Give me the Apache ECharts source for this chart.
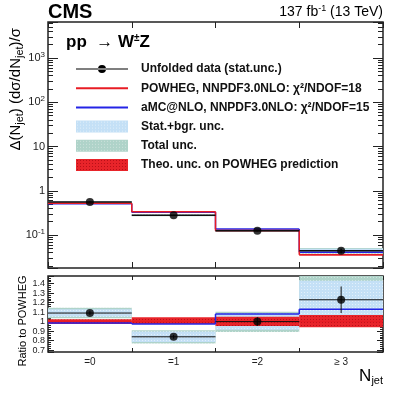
<!DOCTYPE html>
<html>
<head>
<meta charset="utf-8">
<script src="https://cdn.jsdelivr.net/npm/echarts@6/dist/echarts.min.js"></script>
<style>
  html, body { margin: 0; padding: 0; background: #fff; }
  #chart { width: 399px; height: 394px; }
</style>
</head>
<body>
<div id="chart"></div>
<script>
const fontFamily = '"Liberation Sans", Arial, Helvetica, sans-serif'
const categories = ['=0', '=1', '=2', '\u2265 3']

// upper panel: normalised distribution
const dataVal = [0.56, 0.28, 0.125, 0.044]
const dataLo = [0.55, 0.275, 0.121, 0.039]
const dataHi = [0.57, 0.285, 0.129, 0.049]
const statLo = [0.54, 0.27, 0.12, 0.04]
const statHi = [0.58, 0.29, 0.13, 0.049]
const totalLo = [0.53, 0.265, 0.117, 0.038]
const totalHi = [0.59, 0.295, 0.133, 0.051]
const powheg = [0.52, 0.335, 0.126, 0.036]
const theoLo = [0.505, 0.325, 0.121, 0.0345]
const theoHi = [0.535, 0.345, 0.131, 0.0375]
const amcnlo = [0.512, 0.327, 0.136, 0.041]

// lower panel: ratio to POWHEG
const ratioData = [1.09, 0.84, 1.0, 1.23]
const ratioErrLo = [1.07, 0.82, 0.955, 1.09]
const ratioErrHi = [1.11, 0.86, 1.045, 1.37]
const ratioStatLo = [1.05, 0.785, 0.915, 1.0]
const ratioStatHi = [1.13, 0.895, 1.085, 1.43]
const ratioTotalLo = [1.035, 0.77, 0.89, 0.95]
const ratioTotalHi = [1.145, 0.91, 1.105, 1.6]
const ratioTheoLo = [0.975, 0.975, 0.955, 0.94]
const ratioTheoHi = [1.025, 1.045, 1.05, 1.07]
const ratioPowheg = [1, 1, 1, 1]
const ratioAmcnlo = [0.985, 0.975, 1.08, 1.13]

const NAME_DATA = 'Unfolded data (stat.unc.)'
const NAME_POW = 'POWHEG, NNPDF3.0NLO: \u03c7\u00b2/NDOF=18'
const NAME_AMC = 'aMC@NLO, NNPDF3.0NLO: \u03c7\u00b2/NDOF=15'
const NAME_STAT = 'Stat.+bgr. unc.'
const NAME_TOT = 'Total unc.'
const NAME_THEO = 'Theo. unc. on POWHEG prediction'

const redColor = '#e81c24'
const blueColor = '#2424e6'

// small dotted fill like ROOT hatch styles
const pattern = (bg, dot) => {
  const c = document.createElement('canvas')
  c.width = 3
  c.height = 3
  const ctx = c.getContext('2d')
  ctx.fillStyle = bg
  ctx.fillRect(0, 0, 3, 3)
  ctx.fillStyle = dot
  ctx.fillRect(1, 1, 1, 1)
  return { image: c, repeat: 'repeat' }
}
const statFill = pattern('#c4e0f6', '#e2f0fb')
const totalFill = pattern('#afd3c9', '#cfe4de')
const theoFill = pattern('#e8242a', '#b81018')

const clipToGrid = (rect, params) => echarts.graphic.clipRectByRect(rect, {
  x: params.coordSys.x,
  y: params.coordSys.y,
  width: params.coordSys.width,
  height: params.coordSys.height
})

const bandSeries = (name, lo, hi, fill, axis) => ({
  name: name,
  type: 'custom',
  xAxisIndex: axis,
  yAxisIndex: axis,
  itemStyle: { color: fill },
  data: lo.map((v, i) => [i, v, hi[i]]),
  renderItem: (params, api) => {
    const w = api.size([1, 1])[0]
    const top = api.coord([api.value(0), api.value(2)])
    const bot = api.coord([api.value(0), api.value(1)])
    const rect = clipToGrid({ x: top[0] - w / 2, y: top[1], width: w, height: bot[1] - top[1] }, params)
    if (!rect) return null
    return { type: 'rect', shape: rect, style: { fill: fill } }
  }
})

const stepSeries = (name, vals, color, axis, width) => ({
  name: name,
  type: 'custom',
  xAxisIndex: axis,
  yAxisIndex: axis,
  itemStyle: { color: color },
  data: vals.map((v, i) => [i, v]),
  renderItem: (params, api) => {
    const i = api.value(0)
    const w = api.size([1, 1])[0]
    const p = api.coord([i, api.value(1)])
    const style = { stroke: color, lineWidth: width }
    const children = [
      { type: 'line', shape: { x1: p[0] - w / 2, y1: p[1], x2: p[0] + w / 2, y2: p[1] }, style: style }
    ]
    if (i > 0) {
      const q = api.coord([i, vals[i - 1]])
      children.push({ type: 'line', shape: { x1: p[0] - w / 2, y1: q[1], x2: p[0] - w / 2, y2: p[1] }, style: style })
    }
    return { type: 'group', children: children }
  }
})

const errorSeries = (vals, lo, hi, axis, width) => ({
  name: NAME_DATA,
  type: 'custom',
  xAxisIndex: axis,
  yAxisIndex: axis,
  itemStyle: { color: '#000' },
  data: vals.map((v, i) => [i, v, lo[i], hi[i]]),
  renderItem: (params, api) => {
    const w = api.size([1, 1])[0]
    const p = api.coord([api.value(0), api.value(1)])
    const a = api.coord([api.value(0), api.value(2)])
    const b = api.coord([api.value(0), api.value(3)])
    const style = { stroke: '#111', lineWidth: width }
    return {
      type: 'group',
      children: [
        { type: 'line', shape: { x1: p[0] - w / 2, y1: p[1], x2: p[0] + w / 2, y2: p[1] }, style: style },
        { type: 'line', shape: { x1: p[0], y1: a[1], x2: p[0], y2: b[1] }, style: style }
      ]
    }
  }
})

const pointSeries = (vals, axis) => ({
  name: NAME_DATA,
  type: 'scatter',
  xAxisIndex: axis,
  yAxisIndex: axis,
  symbolSize: 8,
  itemStyle: { color: '#000' },
  data: vals.map((v, i) => [i, v])
})

const tickText = { color: '#222', fontFamily: fontFamily }

const xAxisBase = (grid, position, showLabel) => ({
  type: 'category',
  gridIndex: grid,
  position: position,
  data: categories,
  boundaryGap: true,
  axisLine: { show: false },
  axisTick: { show: true, inside: true, length: grid === 0 ? 6 : 4, lineStyle: { color: '#222' } },
  axisLabel: { show: showLabel, fontSize: 10, margin: 5, ...tickText },
  splitLine: { show: false }
})

const logLabel = (v) => {
  const e = Math.round(Math.log10(v))
  if (Math.abs(Math.log10(v) - e) > 1e-6) return ''
  if (e === 0) return '1'
  if (e === 1) return '10'
  return '10{sup|' + e + '}'
}

const yLog = (position, showLabel) => ({
  type: 'log',
  gridIndex: 0,
  position: position,
  min: 0.018,
  max: 6500,
  logBase: 10,
  axisLine: { show: false },
  axisTick: { show: true, inside: true, length: 10, lineStyle: { color: '#222' } },
  minorTick: { show: true, splitNumber: 9, length: 5, lineStyle: { color: '#222' } },
  axisLabel: {
    show: showLabel,
    margin: 3,
    fontSize: 11,
    ...tickText,
    formatter: logLabel,
    rich: { sup: { fontSize: 8, padding: [0, 0, 7, 0], ...tickText } }
  },
  splitLine: { show: false }
})

const yRatio = (position, showLabel) => ({
  type: 'value',
  gridIndex: 1,
  position: position,
  min: 0.68,
  max: 1.48,
  splitNumber: 8,
  axisLine: { show: false },
  axisTick: { show: true, inside: true, length: 6, lineStyle: { color: '#222' } },
  minorTick: { show: true, splitNumber: 5, length: 3, lineStyle: { color: '#222' } },
  axisLabel: {
    show: showLabel,
    margin: 3,
    fontSize: 9,
    ...tickText,
    formatter: (v) => {
      const r = Math.round(v * 10) / 10
      if (Math.abs(v - r) > 1e-6) return ''
      return String(r)
    }
  },
  splitLine: { show: false }
})

const chart = echarts.init(document.getElementById('chart'))

const option = {
  animation: false,
  textStyle: { fontFamily: fontFamily },
  grid: [
    { left: 48, right: 16, top: 22, height: 246, show: true, borderColor: '#222', borderWidth: 1.5, backgroundColor: 'transparent' },
    { left: 48, right: 16, top: 276, height: 76, show: true, borderColor: '#222', borderWidth: 1.5, backgroundColor: 'transparent' }
  ],
  xAxis: [
    xAxisBase(0, 'bottom', false),
    xAxisBase(0, 'top', false),
    xAxisBase(1, 'bottom', true),
    xAxisBase(1, 'top', false)
  ],
  yAxis: [
    yLog('left', true),
    yLog('right', false),
    yRatio('left', true),
    yRatio('right', false)
  ],
  legend: {
    left: 71,
    top: 58,
    orient: 'vertical',
    itemWidth: 52,
    itemHeight: 12,
    itemGap: 7.2,
    selectedMode: false,
    textStyle: { fontSize: 12, fontWeight: 'bold', color: '#111', fontFamily: fontFamily, lineHeight: 12, padding: [0, 0, 0, 8] },
    data: [
      { name: NAME_DATA, icon: 'path://M0,5.4H52V6.6H0Z M22,6A4,4 0 1,0 30,6A4,4 0 1,0 22,6Z' },
      { name: NAME_POW, icon: 'path://M0,0H52V2H0Z' },
      { name: NAME_AMC, icon: 'path://M0,0H52V2H0Z' },
      { name: NAME_STAT, icon: 'rect' },
      { name: NAME_TOT, icon: 'rect' },
      { name: NAME_THEO, icon: 'rect' }
    ]
  },
  series: [
    bandSeries(NAME_TOT, totalLo, totalHi, totalFill, 0),
    bandSeries(NAME_STAT, statLo, statHi, statFill, 0),
    bandSeries(NAME_THEO, theoLo, theoHi, theoFill, 0),
    stepSeries(NAME_AMC, amcnlo, blueColor, 0, 1.5),
    stepSeries(NAME_POW, powheg, redColor, 0, 1.5),
    errorSeries(dataVal, dataLo, dataHi, 0, 1.5),
    pointSeries(dataVal, 0),

    bandSeries(NAME_TOT, ratioTotalLo, ratioTotalHi, totalFill, 2),
    bandSeries(NAME_STAT, ratioStatLo, ratioStatHi, statFill, 2),
    bandSeries(NAME_THEO, ratioTheoLo, ratioTheoHi, theoFill, 2),
    stepSeries(NAME_POW, ratioPowheg, redColor, 2, 1.5),
    stepSeries(NAME_AMC, ratioAmcnlo, blueColor, 2, 1.5),
    errorSeries(ratioData, ratioErrLo, ratioErrHi, 2, 1),
    pointSeries(ratioData, 2)
  ],
  graphic: [
    {
      type: 'text', left: 48, top: 2,
      style: { text: 'CMS', fontSize: 20, fontWeight: 'bold', fill: '#000', fontFamily: fontFamily }
    },
    {
      type: 'text', right: 16, top: 4,
      style: {
        text: '137 fb{sup|-1} (13 TeV)',
        fontSize: 14, fill: '#000', fontFamily: fontFamily,
        rich: { sup: { fontSize: 9, padding: [0, 0, 8, 0], fill: '#000', fontFamily: fontFamily } }
      }
    },
    {
      type: 'text', left: 66, top: 33,
      style: {
        text: 'pp  \u2192 W{sup|\u00b1}Z',
        fontSize: 17, fontWeight: 'bold', fill: '#000', fontFamily: fontFamily,
        rich: { sup: { fontSize: 10, fontWeight: 'bold', padding: [0, 0, 9, 0], fill: '#000', fontFamily: fontFamily } }
      }
    },
    {
      type: 'text', x: 16, y: 28, rotation: Math.PI / 2,
      style: {
        text: '\u0394(N{sub|jet}) (d\u03c3/dN{sub|jet})/\u03c3',
        fontSize: 15, fill: '#000', fontFamily: fontFamily,
        align: 'right', verticalAlign: 'middle',
        rich: { sub: { fontSize: 11, padding: [7, 0, 0, 0], fill: '#000', fontFamily: fontFamily } }
      }
    },
    {
      type: 'text', x: 23, y: 321, rotation: Math.PI / 2,
      style: {
        text: 'Ratio to POWHEG',
        fontSize: 11, fill: '#000', fontFamily: fontFamily,
        align: 'center', verticalAlign: 'middle'
      }
    },
    {
      type: 'text', right: 16, top: 368,
      style: {
        text: 'N{sub|jet}',
        fontSize: 17, fill: '#000', fontFamily: fontFamily,
        rich: { sub: { fontSize: 11, padding: [9, 0, 0, 0], fill: '#000', fontFamily: fontFamily } }
      }
    }
  ]
}

chart.setOption(option)
</script>
</body>
</html>
